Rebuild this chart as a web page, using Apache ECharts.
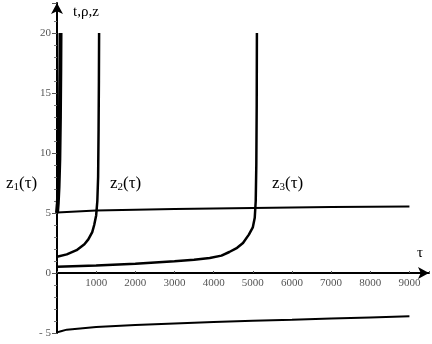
<!DOCTYPE html>
<html>
<head>
<meta charset="utf-8">
<script src="https://cdn.jsdelivr.net/npm/echarts@6/dist/echarts.min.js"></script>
<style>
html,body{margin:0;padding:0;background:#fff;}
#main{width:432px;height:344px;}
</style>
</head>
<body>
<div id="main"></div>
<script>
// curve data, [tau, value]
var z1Data = [[0,5.0],[20,5.8],[40,7.2],[60,9.5],[75,13],[85,17],[90,20]];
var z2Data = [[0,1.35],[250,1.55],[500,1.9],[700,2.4],[800,2.8],[900,3.4],[950,4.0],[1000,4.8],[1030,6],[1050,8],[1062,12],[1070,16],[1075,20]];
var z3Data = [[0,0.53],[1000,0.62],[2000,0.78],[3000,0.98],[3500,1.1],[3900,1.25],[4200,1.45],[4400,1.75],[4600,2.1],[4750,2.5],[4900,3.2],[5000,3.8],[5050,4.6],[5075,6],[5090,9],[5100,14],[5105,20]];
var rhoData = [[0,5.05],[1000,5.2],[3000,5.33],[5000,5.42],[7000,5.5],[9000,5.55]];
var lowData = [[0,-4.95],[100,-4.85],[250,-4.72],[1000,-4.5],[2000,-4.33],[3000,-4.2],[4000,-4.08],[5000,-3.98],[6000,-3.9],[7000,-3.8],[8000,-3.7],[9000,-3.6]];
var yTicks = [-5,0,5,10,15,20];

var myChart = echarts.init(document.getElementById('main'));
var serif = 'Liberation Serif';

function curve(d, w){
  return {
    type: 'line',
    data: d,
    showSymbol: false,
    smooth: false,
    lineStyle: {color: '#000', width: w},
    silent: true,
    z: 3
  };
}

var option = {
  backgroundColor: '#fff',
  animation: false,
  grid: {left: 57, right: 3, top: 3, bottom: 11},
  xAxis: {
    type: 'value',
    min: 0,
    max: 9500,
    interval: 1000,
    // axis sits on y = 0, which is 5 units (60px) above the bottom of the grid
    offset: -60,
    axisLine: {onZero: false, lineStyle: {color: '#000', width: 2}, symbol: ['none','arrow'], symbolSize: [9,11]},
    axisTick: {inside: true, length: 2, lineStyle: {color: '#555'}},
    axisLabel: {
      color: '#555', fontFamily: serif, fontSize: 11, margin: 5,
      formatter: function(v){ return (v > 0 && v % 1000 === 0) ? String(v) : ''; }
    },
    splitLine: {show: false}
  },
  yAxis: {
    type: 'value',
    min: -5,
    max: 22.5,
    interval: 5,
    axisLine: {onZero: false, lineStyle: {color: '#000', width: 2}, symbol: ['none','arrow'], symbolSize: [9,11]},
    axisTick: {length: 5, lineStyle: {color: '#555'}},
    minorTick: {show: true, splitNumber: 5, length: 3, lineStyle: {color: '#777'}},
    axisLabel: {
      color: '#555', fontFamily: serif, fontSize: 11, margin: 6,
      formatter: function(v){ return yTicks.indexOf(v) >= 0 ? (v < 0 ? '- ' + (-v) : String(v)) : ''; }
    },
    splitLine: {show: false}
  },
  graphic: [
    {type: 'text', left: 73, top: 5, style: {text: 't,ρ,z', font: '15px ' + serif, fill: '#000'}},
    {type: 'text', left: 417, top: 246, style: {text: 'τ', font: '15px ' + serif, fill: '#000'}},
    {type: 'text', left: 6, top: 175, style: {
      text: 'z{s|1}(τ)', font: '17px ' + serif, fill: '#000',
      rich: {s: {fontSize: 11, fontFamily: serif, padding: [8,0,0,0]}}
    }},
    {type: 'text', left: 110, top: 175, style: {
      text: 'z{s|2}(τ)', font: '17px ' + serif, fill: '#000',
      rich: {s: {fontSize: 11, fontFamily: serif, padding: [8,0,0,0]}}
    }},
    {type: 'text', left: 272, top: 175, style: {
      text: 'z{s|3}(τ)', font: '17px ' + serif, fill: '#000',
      rich: {s: {fontSize: 11, fontFamily: serif, padding: [8,0,0,0]}}
    }}
  ],
  series: [
    curve(z1Data, 4),
    curve(z2Data, 2.5),
    curve(z3Data, 2.5),
    curve(rhoData, 2),
    curve(lowData, 2)
  ]
};
myChart.setOption(option);
</script>
</body>
</html>
